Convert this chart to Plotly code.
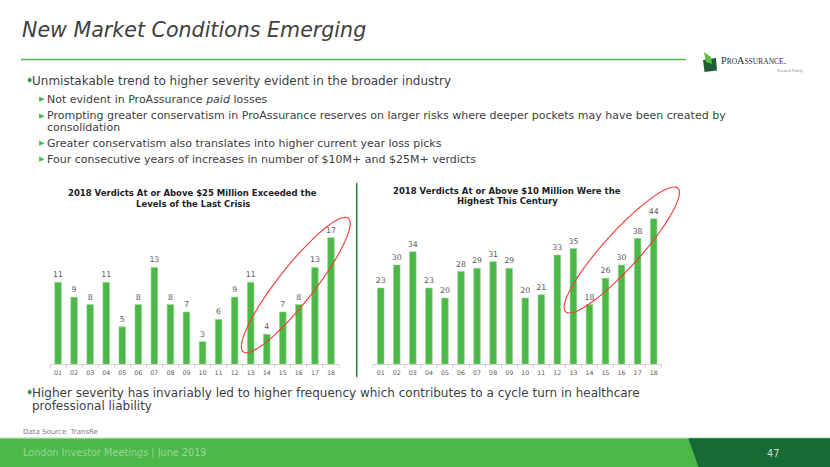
import numpy as np
import plotly.graph_objects as go

W, H = 830, 467

# ---------------- data ----------------
years = ["01", "02", "03", "04", "05", "06", "07", "08", "09", "10",
         "11", "12", "13", "14", "15", "16", "17", "18"]
verdicts_25m = [11, 9, 8, 11, 5, 8, 13, 8, 7, 3, 6, 9, 11, 4, 7, 8, 13, 17]
verdicts_10m = [23, 30, 34, 23, 20, 28, 29, 31, 29, 20, 21, 33, 35, 18, 26, 30, 38, 44]

title_text = "New Market Conditions Emerging"
chart1_title = ["2018 Verdicts At or Above $25 Million Exceeded the", "Levels of the Last Crisis"]
chart2_title = ["2018 Verdicts At or Above $10 Million Were the", "Highest This Century"]

GREEN = "#4cb848"
DARK_GREEN = "#166a36"
TEXT = "#404040"


def px(x):
    return x / W


def py(y):
    return 1 - y / H


fig = go.Figure()

bar_style = dict(marker=dict(color=GREEN, line=dict(color="#93d28e", width=0.6)),
                 width=0.41, textposition="outside", cliponaxis=False,
                 constraintext="none",
                 textfont=dict(size=7.8, color="#595959", family="DejaVu Sans"),
                 hoverinfo="skip")

fig.add_trace(go.Bar(x=years, y=verdicts_25m, text=[str(v) for v in verdicts_25m],
                     xaxis="x", yaxis="y", **bar_style))
fig.add_trace(go.Bar(x=years, y=verdicts_10m, text=[str(v) for v in verdicts_10m],
                     xaxis="x2", yaxis="y2", **bar_style))

xax = dict(type="category", showline=True, linecolor="#d0d0d0", linewidth=1,
           ticks="outside", tickson="boundaries", ticklen=3, tickcolor="#d0d0d0",
           tickangle=0, ticklabelstandoff=2,
           tickfont=dict(size=6.3, color="#595959", family="DejaVu Sans"),
           showgrid=False, zeroline=False, fixedrange=True)
yax = dict(visible=False, showgrid=False, zeroline=False, fixedrange=True)

fig.update_layout(
    width=W, height=H, margin=dict(l=0, r=0, t=0, b=0),
    paper_bgcolor="white", plot_bgcolor="white", showlegend=False,
    font=dict(family="DejaVu Sans", color=TEXT),
    xaxis=dict(domain=[px(50), px(339)], anchor="y", **xax),
    yaxis=dict(domain=[py(364), py(230.3)], range=[0, 18], anchor="x", **yax),
    xaxis2=dict(domain=[px(372.7), px(661.7)], anchor="y2", **xax),
    yaxis2=dict(domain=[py(364), py(212.2)], range=[0, 46], anchor="x2", **yax),
)

shapes = []
annotations = []


def text(x, y, s, size, color=TEXT, anchor="left", family="DejaVu Sans"):
    annotations.append(dict(x=px(x), y=py(y), xref="paper", yref="paper", text=s,
                            showarrow=False, xanchor=anchor, yanchor="middle",
                            font=dict(size=size, color=color, family=family)))


# title + rule
text(20, 29.5, "<i>" + title_text + "</i>", 20.6)
shapes.append(dict(type="line", xref="paper", yref="paper", x0=px(21), x1=px(686),
                   y0=py(59.5), y1=py(59.5), line=dict(color=GREEN, width=1.5)))

# logo
shapes.append(dict(type="path", xref="paper", yref="paper",
                   path="M {} {} L {} {} L {} {} L {} {} Z".format(
                       px(703), py(60), px(716), py(58), px(717), py(70.5), px(704.5), py(72)),
                   fillcolor="#1d5e33", line=dict(width=0)))
shapes.append(dict(type="path", xref="paper", yref="paper",
                   path="M {} {} L {} {} L {} {} L {} {} Z".format(
                       px(704), py(52), px(711), py(57), px(712), py(64), px(706), py(62)),
                   fillcolor="#5cbf3f", line=dict(width=0)))
text(719, 61, "P<span style='font-size:7.5px'>RO</span>A<span style='font-size:7.5px'>SSURANCE</span>.",
     10.2, color="#2b2b2b", family="Liberation Serif")
text(790, 70.5, "Treated Fairly", 4.6, color="#8a8a8a", anchor="center", family="Liberation Serif")

# bullets
text(23.5, 81, "<span style='color:#2e8b3e'>♦</span>", 8)
text(30, 81, "Unmistakable trend to higher severity evident in the broader industry", 12)
sub = [(99.3, "Not evident in ProAssurance <i>paid</i> losses"),
       (115.7, "Prompting greater conservatism in ProAssurance reserves on larger risks where deeper pockets may have been created by"),
       (143.3, "Greater conservatism also translates into higher current year loss picks"),
       (159.3, "Four consecutive years of increases in number of $10M+ and $25M+ verdicts")]
for y, s in sub:
    text(37, y, "<span style='color:" + GREEN + "'>▶</span>", 7)
    text(45, y, s, 11)
text(45, 127, "consolidation", 11)

# chart titles
for i, ln in enumerate(chart1_title):
    annotations.append(dict(x=px(192.5), y=py(193.3 + 10.7 * i), xref="paper", yref="paper",
                            text="<b>" + ln + "</b>", showarrow=False, xanchor="center",
                            yanchor="middle", font=dict(size=8.5, color="#222222")))
for i, ln in enumerate(chart2_title):
    annotations.append(dict(x=px(507.3), y=py(190.7 + 10.7 * i), xref="paper", yref="paper",
                            text="<b>" + ln + "</b>", showarrow=False, xanchor="center",
                            yanchor="middle", font=dict(size=8.5, color="#222222")))

# divider between charts
shapes.append(dict(type="line", xref="paper", yref="paper", x0=px(356.7), x1=px(356.7),
                   y0=py(183), y1=py(377), line=dict(color="#1f7a3d", width=1.5)))


# red ellipses
def ellipse_path(cx, cy, a, b, ang_deg, n=80):
    t = np.linspace(0, 2 * np.pi, n)
    ang = np.deg2rad(ang_deg)
    ux, uy = np.cos(ang), -np.sin(ang)
    vx, vy = np.sin(ang), np.cos(ang)
    xs = cx + a * np.cos(t) * ux + b * np.sin(t) * vx
    ys = cy + a * np.cos(t) * uy + b * np.sin(t) * vy
    pts = ["{:.5f} {:.5f}".format(px(x), py(y)) for x, y in zip(xs, ys)]
    return "M " + " L ".join(pts) + " Z"


shapes.append(dict(type="path", xref="paper", yref="paper",
                   path=ellipse_path(295.8, 285.0, 85.0, 18.0, 51.8),
                   line=dict(color="#f03a3a", width=1.1)))
shapes.append(dict(type="path", xref="paper", yref="paper",
                   path=ellipse_path(621.8, 250.0, 83.5, 18.0, 47.8),
                   line=dict(color="#f03a3a", width=1.1)))

# bottom bullet
text(23.5, 392.5, "<span style='color:#2e8b3e'>♦</span>", 8)
text(30, 392.5, "Higher severity has invariably led to higher frequency which contributes to a cycle turn in healthcare", 12)
text(30, 405.5, "professional liability", 12)

text(20.5, 432.3, "Data Source: TransRe", 7, color="#808080")

# footer
shapes.append(dict(type="rect", xref="paper", yref="paper", x0=0, x1=1, y0=0, y1=py(438.3),
                   fillcolor=GREEN, line=dict(width=0), layer="below"))
shapes.append(dict(type="line", xref="paper", yref="paper", x0=0, x1=1,
                   y0=py(437.8), y1=py(437.8), line=dict(color="#cfe8cc", width=1)))
shapes.append(dict(type="path", xref="paper", yref="paper",
                   path="M {} {} L {} {} L {} {} L {} {} Z".format(
                       px(688.3), py(438.3), 1, py(438.3), 1, 0, px(698.5), 0),
                   fillcolor=DARK_GREEN, line=dict(width=0)))
text(21, 452.7, "London Investor Meetings | June 2019", 9.7, color="#9ad696")
text(773.3, 453.3, "47", 9.7, color="#d3ddd3", anchor="center")

fig.update_layout(shapes=shapes, annotations=annotations)

fig.write_html("out.html", include_plotlyjs=True, full_html=True,
               config={"displayModeBar": False},
               post_script="document.body.style.margin='0';document.body.style.overflow='hidden';")
